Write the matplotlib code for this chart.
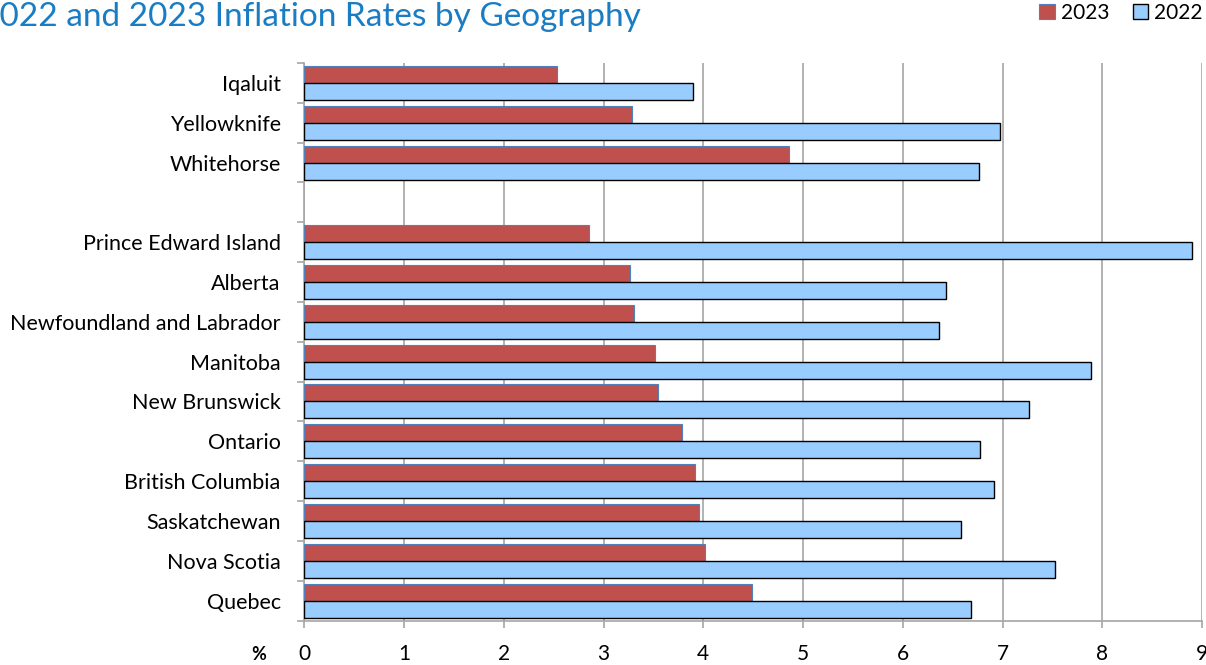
import matplotlib
matplotlib.use("Agg")
import numpy as np
from matplotlib import pyplot as plt
from matplotlib.patches import Patch

# bottom -> top
regions = ["Quebec", "Nova Scotia", "Saskatchewan", "British Columbia", "Ontario",
           "New Brunswick", "Manitoba", "Newfoundland and Labrador", "Alberta",
           "Prince Edward Island", "", "Whitehorse", "Yellowknife", "Iqaluit"]
rate_2023 = [4.49, 4.02, 3.96, 3.92, 3.79, 3.55, 3.52, 3.31, 3.27, 2.85, np.nan, 4.86, 3.29, 2.53]
rate_2022 = [6.68, 7.53, 6.58, 6.91, 6.77, 7.27, 7.89, 6.36, 6.43, 8.90, np.nan, 6.76, 6.97, 3.90]
x_ticks = list(range(0, 10))

RED = "#C0504D"
BLUE = "#99CCFF"
GRID = "#A6A6A6"
FONT = "Lato"

plt.rcParams["font.family"] = [FONT, "DejaVu Sans"]

W, H = 1206, 665
fig = plt.figure(figsize=(W / 100, H / 100), dpi=100)
ax = fig.add_axes([304.3 / W, 1 - 620.5 / H, (1202 - 304.3) / W, (620.5 - 63) / H])

y = np.arange(len(regions))
bh = 0.427
ax.barh(y + bh / 2, rate_2023, height=bh, color=RED, edgecolor="#4F81BD", linewidth=0.8, zorder=3)
ax.barh(y - bh / 2, rate_2022, height=bh, color=BLUE, edgecolor="black", linewidth=1.0, zorder=3)

ax.set_xlim(0, 9)
ax.set_ylim(-0.5, len(regions) - 0.5)

ax.set_xticks(x_ticks)
ax.set_xticklabels([str(t) for t in x_ticks])
ax.set_yticks(y)
ax.set_yticklabels(regions)
ax.set_yticks(np.arange(len(regions) + 1) - 0.5, minor=True)

ax.tick_params(axis="y", which="major", length=0, pad=17, labelsize=15.5)
ax.tick_params(axis="y", which="minor", length=5, width=1.2, color=GRID, direction="out")
ax.tick_params(axis="x", length=5, width=1.2, color=GRID, direction="out", pad=12, labelsize=15)

ax.grid(axis="x", color=GRID, linewidth=1.2, zorder=0)
ax.set_axisbelow(True)
for s in ["top", "right"]:
    ax.spines[s].set_visible(False)
for s in ["left", "bottom"]:
    ax.spines[s].set_color(GRID)
    ax.spines[s].set_linewidth(1.2)

fig.text(641 / W, 1 - 26 / H, "2022 and 2023 Inflation Rates by Geography",
         ha="right", va="baseline", fontsize=24, color="#1A7DC4")
fig.text(259 / W, 1 - 654 / H, "%", ha="center", va="center", fontsize=13, fontweight="bold")

handles = [Patch(facecolor=RED, edgecolor="#4F81BD", linewidth=0.8),
           Patch(facecolor=BLUE, edgecolor="black", linewidth=1.0)]
fig.legend(handles, ["2023", "2022"], loc="upper right", bbox_to_anchor=(1.0, 1.0),
           ncol=2, frameon=False, fontsize=15, handlelength=0.75, handleheight=0.75,
           handletextpad=0.3, columnspacing=1.1, borderaxespad=0.0, borderpad=0.15)

fig.savefig("out.png", dpi=100)
